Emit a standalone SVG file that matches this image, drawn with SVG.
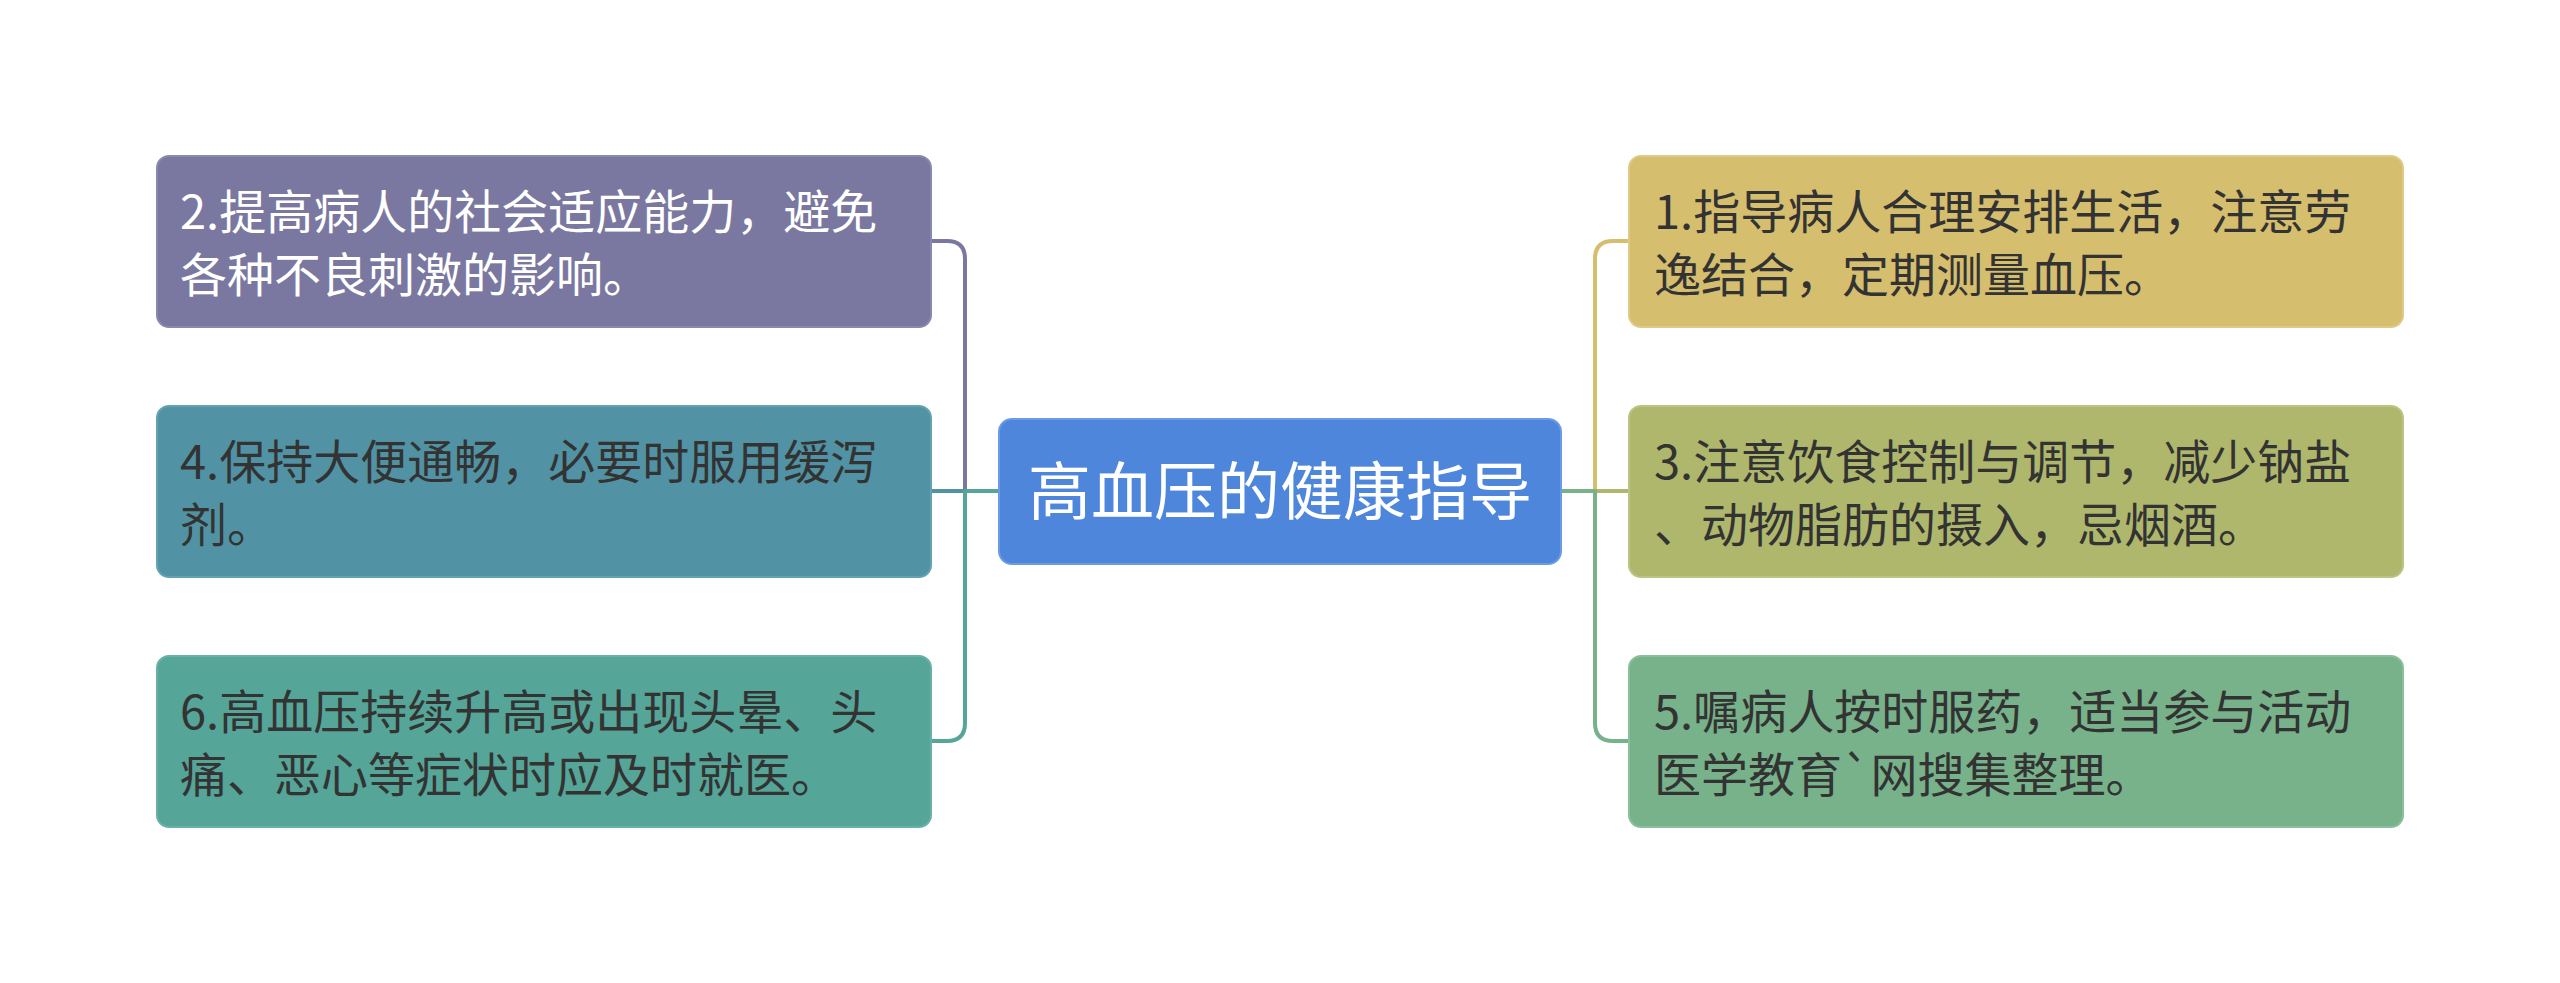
<svg xmlns="http://www.w3.org/2000/svg" width="2560" height="983" viewBox="0 0 2560 983">
<style>
.node rect{stroke-width:2}
.t{font-family:"Noto Sans CJK SC","Noto Sans",sans-serif;font-size:47px;fill:#333333}
.tw{fill:#ffffff}
.main{font-family:"Noto Sans CJK SC","Noto Sans",sans-serif;font-size:63px;fill:#ffffff}
.conn path{fill:none;stroke-width:4;stroke-linejoin:round}
</style>
<rect width="2560" height="983" fill="#ffffff"/>
<g id="connectors" class="conn">
<path d="M999,491 H965 V259 Q965,241 947,241 H931" stroke="#7A78A0"/>
<path d="M999,491 H931" stroke="#5193A4"/>
<path d="M999,491 H965 V723 Q965,741 947,741 H931" stroke="#55A598"/>
<path d="M1561,491 H1595 V259 Q1595,241 1613,241 H1629" stroke="#D5BE6E"/>
<path d="M1561,491 H1629" stroke="#AEB76C"/>
<path d="M1561,491 H1595 V723 Q1595,741 1613,741 H1629" stroke="#77B28A"/>
</g>
<g id="center" class="node">
<rect x="999" y="419" width="562" height="145" rx="13" fill="#4E86DB" stroke="#6A9BE3"/>
<text class="main" x="1280" y="514" text-anchor="middle">高血压的健康指导</text>
</g>
<g id="n2" class="node">
<rect x="157" y="156" width="774" height="171" rx="12" fill="#7A78A0" stroke="#8A88AE"/>
<text class="t tw" x="180"><tspan x="180" y="229">2.提高病人的社会适应能力，避免</tspan><tspan x="180" y="292">各种不良刺激的影响。</tspan></text>
</g>
<g id="n4" class="node">
<rect x="157" y="406" width="774" height="171" rx="12" fill="#5193A4" stroke="#64A2B1"/>
<text class="t" x="180"><tspan x="180" y="479">4.保持大便通畅，必要时服用缓泻</tspan><tspan x="180" y="542">剂。</tspan></text>
</g>
<g id="n6" class="node">
<rect x="157" y="656" width="774" height="171" rx="12" fill="#55A598" stroke="#67B2A6"/>
<text class="t" x="180"><tspan x="180" y="729">6.高血压持续升高或出现头晕、头</tspan><tspan x="180" y="792">痛、恶心等症状时应及时就医。</tspan></text>
</g>
<g id="n1" class="node">
<rect x="1629" y="156" width="774" height="171" rx="12" fill="#D5BE6E" stroke="#DDCA86"/>
<text class="t" x="1654"><tspan x="1654" y="229">1.指导病人合理安排生活，注意劳</tspan><tspan x="1654" y="292">逸结合，定期测量血压。</tspan></text>
</g>
<g id="n3" class="node">
<rect x="1629" y="406" width="774" height="171" rx="12" fill="#AEB76C" stroke="#BCC384"/>
<text class="t" x="1654"><tspan x="1654" y="479">3.注意饮食控制与调节，减少钠盐</tspan><tspan x="1654" y="542">、动物脂肪的摄入，忌烟酒。</tspan></text>
</g>
<g id="n5" class="node">
<rect x="1629" y="656" width="774" height="171" rx="12" fill="#77B28A" stroke="#8ABF9B"/>
<text class="t" x="1654"><tspan x="1654" y="729">5.嘱病人按时服药，适当参与活动</tspan><tspan x="1654" y="792">医学教育`网搜集整理。</tspan></text>
</g>
</svg>
